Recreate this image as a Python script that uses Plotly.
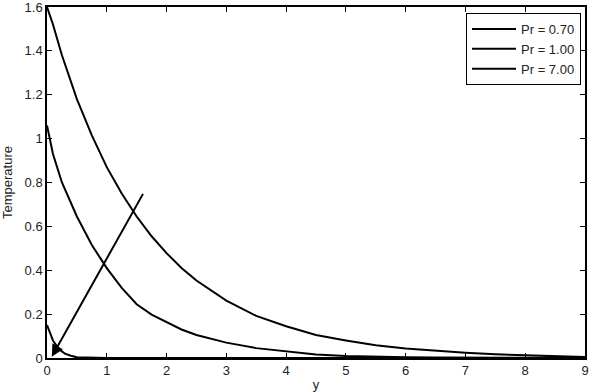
import plotly.graph_objects as go

x_main = [0, 0.1, 0.25, 0.5, 0.75, 1, 1.25, 1.5, 1.75, 2, 2.25, 2.5, 3, 3.5, 4, 4.5, 5, 5.5, 6, 6.5, 7, 7.5, 8, 8.5, 9]
t_pr070 = [1.6, 1.52, 1.38, 1.18, 1.015, 0.87, 0.75, 0.645, 0.555, 0.478, 0.41, 0.353, 0.262, 0.192, 0.145, 0.105, 0.08, 0.058, 0.043, 0.032, 0.024, 0.017, 0.012, 0.006, 0.004]
t_pr100 = [1.06, 0.93, 0.80, 0.645, 0.515, 0.41, 0.32, 0.245, 0.198, 0.163, 0.13, 0.105, 0.07, 0.045, 0.03, 0.016, 0.009, 0.005, 0.003, 0.002, 0.002, 0.001, 0.001, 0.0, 0.0]
x_pr700 = [0, 0.05, 0.1, 0.2, 0.3, 0.4, 0.5, 1, 2, 3, 4, 5, 6, 7, 8, 9]
t_pr700 = [0.15, 0.11, 0.08, 0.04, 0.02, 0.01, 0.003, 0, 0, 0, 0, 0, 0, 0, 0, 0]
labels = ["Pr = 0.70", "Pr = 1.00", "Pr = 7.00"]

arrow_tail = (1.62, 0.755)
arrow_head = (0.08, 0.006)

x_ticks = [0, 1, 2, 3, 4, 5, 6, 7, 8, 9]
y_ticks = [0, 0.2, 0.4, 0.6, 0.8, 1, 1.2, 1.4, 1.6]

fig = go.Figure()
line = dict(color="black", width=2)
fig.add_trace(go.Scatter(x=x_main, y=t_pr070, mode="lines", line=line, name=labels[0]))
fig.add_trace(go.Scatter(x=x_main, y=t_pr100, mode="lines", line=line, name=labels[1]))
fig.add_trace(go.Scatter(x=x_pr700, y=t_pr700, mode="lines", line=line, name=labels[2]))

fig.add_annotation(x=arrow_head[0], y=arrow_head[1], ax=arrow_tail[0], ay=arrow_tail[1],
                   xref="x", yref="y", axref="x", ayref="y", text="", showarrow=True,
                   arrowhead=2, arrowsize=1.2, arrowwidth=2, arrowcolor="black")

axis_common = dict(showline=True, linecolor="black", linewidth=1.5, mirror="ticks",
                   ticks="inside", ticklen=5, tickcolor="black", showgrid=False,
                   zeroline=False, automargin=False, ticklabeloverflow="allow",
                   tickfont=dict(family="Liberation Sans", size=13, color="#222"))
fig.update_xaxes(range=[0, 9], tickvals=x_ticks, title=dict(text="y", font=dict(size=13)), **axis_common)
fig.update_yaxes(range=[0, 1.6], tickvals=y_ticks, title=dict(text="Temperature", font=dict(size=13)), **axis_common)

fig.update_layout(
    width=597, height=392,
    margin=dict(l=47, r=12, t=7, b=34),
    paper_bgcolor="white", plot_bgcolor="white",
    font=dict(family="Liberation Sans", size=13, color="#222"),
    legend=dict(x=0.9926, y=0.983, xanchor="right", yanchor="top",
                bordercolor="black", borderwidth=1, bgcolor="white",
                font=dict(family="Liberation Sans", size=13), tracegroupgap=0, itemwidth=44),
    showlegend=True,
)

fig.write_html("out.html")
